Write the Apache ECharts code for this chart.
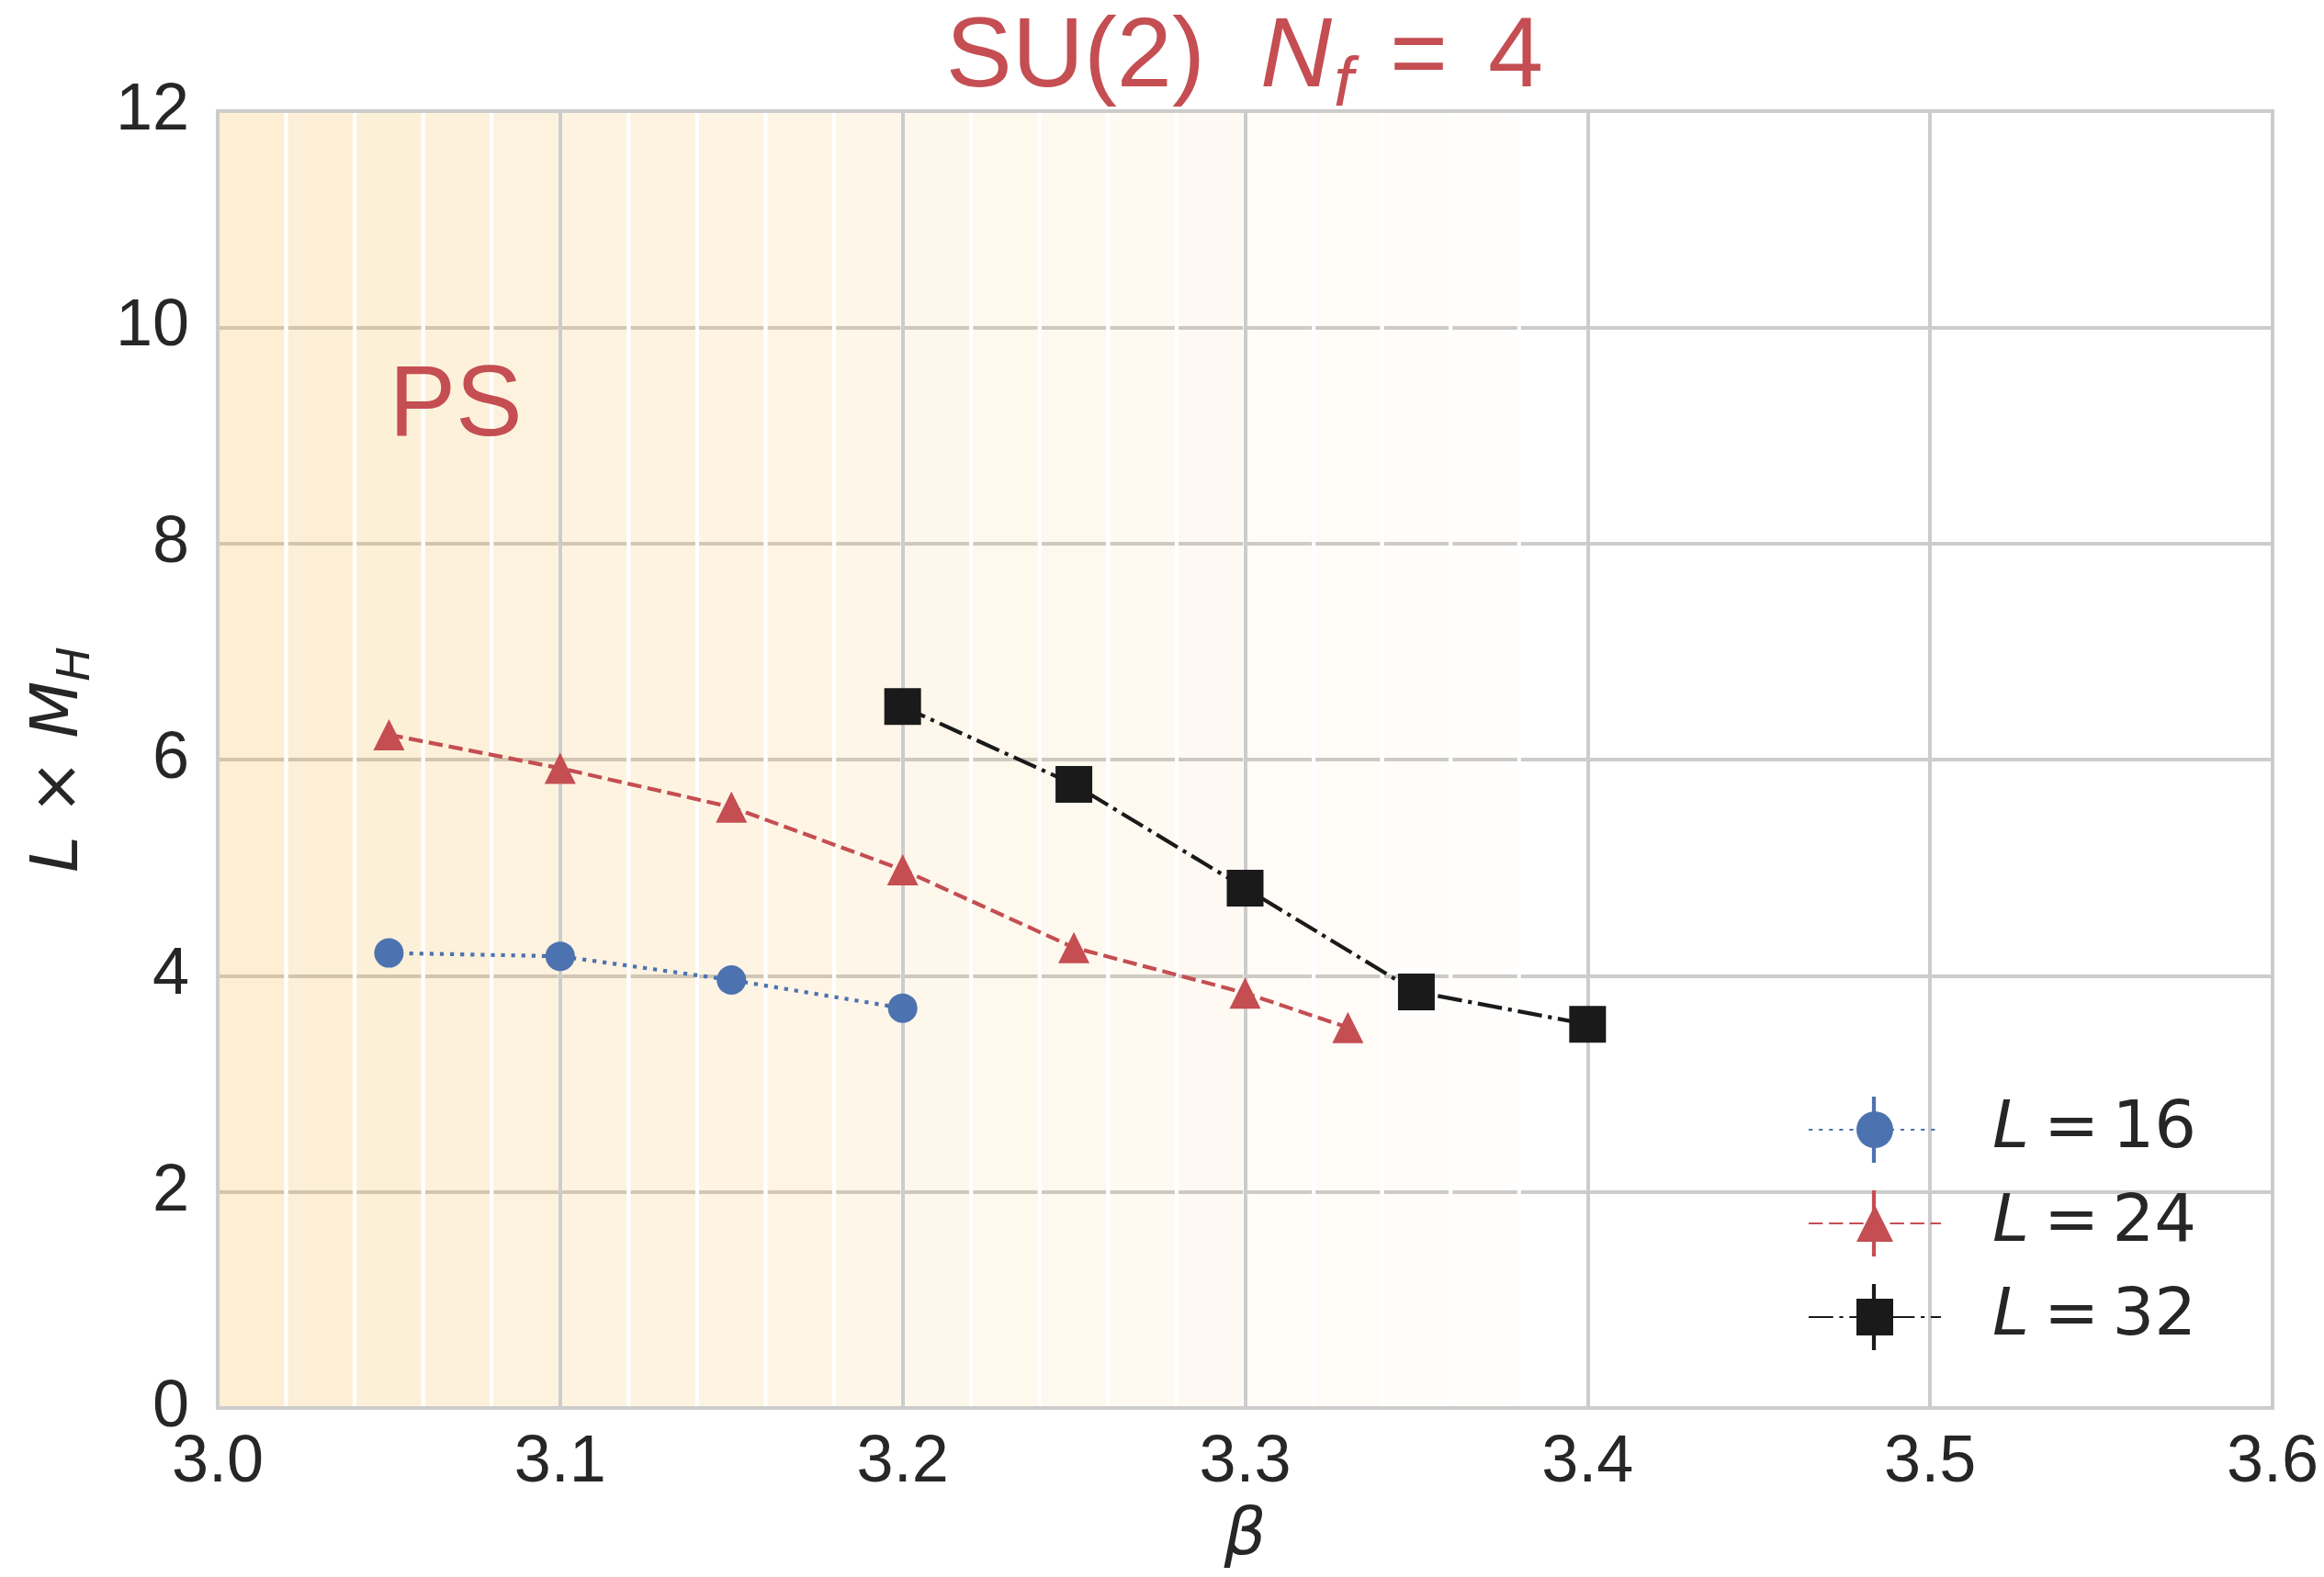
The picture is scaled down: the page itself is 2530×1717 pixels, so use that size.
<!DOCTYPE html>
<html>
<head>
<meta charset="utf-8">
<script src="https://cdn.jsdelivr.net/npm/echarts@6/dist/echarts.min.js"></script>
<style>
html,body{margin:0;padding:0;background:#fff;}
#chart{width:2530px;height:1717px;}
</style>
</head>
<body>
<div id="chart"></div>
<script>
// ---- data ----
const betaL16 = [3.05, 3.10, 3.15, 3.20];
const mhL16   = [4.21, 4.18, 3.96, 3.70];
const betaL24 = [3.05, 3.10, 3.15, 3.20, 3.25, 3.30, 3.33];
const mhL24   = [6.23, 5.92, 5.56, 4.98, 4.26, 3.84, 3.52];
const betaL32 = [3.20, 3.25, 3.30, 3.35, 3.40];
const mhL32   = [6.49, 5.77, 4.81, 3.85, 3.55];
const seriesNames = ['L16', 'L24', 'L32'];
const legendLabels = ['{i|L}{e|=}{n|16}', '{i|L}{e|=}{n|24}', '{i|L}{e|=}{n|32}'];
const xTickLabels = ['3.0', '3.1', '3.2', '3.3', '3.4', '3.5', '3.6'];
const yTickLabels = ['0', '2', '4', '6', '8', '10', '12'];
// background bands (PS region shading)
const bandStarts = [3.00, 3.02, 3.04, 3.06, 3.08, 3.10, 3.12, 3.14, 3.16, 3.18,
                    3.20, 3.22, 3.24, 3.26, 3.28, 3.30, 3.32, 3.34, 3.36];
const bandEnds   = [3.02, 3.04, 3.06, 3.08, 3.10, 3.12, 3.14, 3.16, 3.18, 3.20,
                    3.22, 3.24, 3.26, 3.28, 3.30, 3.32, 3.34, 3.36, 3.38];
const bandAlphas = [0.200, 0.189, 0.179, 0.168, 0.158, 0.147, 0.137, 0.126, 0.116, 0.105,
                    0.095, 0.084, 0.074, 0.063, 0.053, 0.042, 0.032, 0.021, 0.011];
const psLabel = { beta: 3.05, value: 9.0, text: 'PS' };

const zip = (a, b) => a.map((v, i) => [v, b[i]]);
const bandData = bandStarts.map((s, i) => [s, bandEnds[i], bandAlphas[i]]);

const TXT = '#262626';
const seriesColors = ['#4c72b0', '#c44e52', '#1a1a1a'];

// legend layout settings
const LEG_LEFT = 1968, LEG_TOP = 1194, LEG_W = 144, LEG_ROW = 72, LEG_GAP = 30;
// error-bar stubs shown in the legend handles
const legendStubs = seriesNames.map((n, i) => ({
  type: 'line', z: 200, silent: true,
  shape: {
    x1: LEG_LEFT + LEG_W / 2, x2: LEG_LEFT + LEG_W / 2,
    y1: LEG_TOP + LEG_ROW / 2 + i * (LEG_ROW + LEG_GAP) - 36,
    y2: LEG_TOP + LEG_ROW / 2 + i * (LEG_ROW + LEG_GAP) + 36
  },
  style: { stroke: seriesColors[i], lineWidth: 4.2 }
}));

const chart = echarts.init(document.getElementById('chart'), null, { renderer: 'canvas' });

const option = {
  animation: false,
  backgroundColor: '#ffffff',
  grid: {
    left: 237, right: 56, top: 121, bottom: 184,
    show: true, borderColor: '#cccccc', borderWidth: 4,
    backgroundColor: 'transparent', z: 5,
    outerBoundsMode: 'none'
  },
  graphic: [{
    type: 'text', x: 1355, y: 64, z: 100,
    style: {
      text: '{n|SU(2)  }{i|N}{s|f}{e|=}{n|4}',
      align: 'center', verticalAlign: 'middle',
      rich: {
        n: { fontFamily: 'Liberation Sans', fontSize: 108, fill: '#c44e52', lineHeight: 130 },
        e: { fontFamily: 'Liberation Sans', fontSize: 108, fill: '#c44e52', lineHeight: 130, padding: [0, 44, 0, 40] },
        i: { fontFamily: 'Liberation Sans', fontStyle: 'italic', fontSize: 108, fill: '#c44e52', lineHeight: 130 },
        s: { fontFamily: 'Liberation Sans', fontStyle: 'italic', fontSize: 76, fill: '#c44e52', lineHeight: 60, padding: [60, 0, 0, 2] }
      }
    }
  }].concat(legendStubs),
  legend: {
    orient: 'vertical',
    left: LEG_LEFT, top: LEG_TOP, padding: 0,
    itemWidth: LEG_W, itemHeight: 50, itemGap: LEG_GAP,
    data: seriesNames,
    formatter: (name) => legendLabels[seriesNames.indexOf(name)],
    textStyle: {
      color: TXT, fontSize: 72, lineHeight: LEG_ROW, padding: [0, 0, 0, 51],
      rich: {
        i: { fontFamily: 'DejaVu Sans', fontStyle: 'italic', fontSize: 72, color: TXT },
        e: { fontFamily: 'DejaVu Sans', fontSize: 72, color: TXT, padding: [0, 14, 0, 16] },
        n: { fontFamily: 'DejaVu Sans', fontSize: 72, color: TXT }
      }
    }
  },
  xAxis: {
    type: 'value', min: 3.0, max: 3.6, interval: 0.1, z: 3,
    axisLine: { show: false }, axisTick: { show: false },
    splitLine: { show: true, lineStyle: { color: '#cccccc', width: 4 } },
    axisLabel: {
      color: TXT, fontFamily: 'Liberation Sans', fontSize: 72, margin: 24,
      formatter: (v) => xTickLabels[Math.round((v - 3.0) * 10)]
    },
    name: '{i|β}', nameLocation: 'middle', nameGap: 104,
    nameTextStyle: {
      rich: { i: { fontFamily: 'DejaVu Sans', fontStyle: 'italic', fontSize: 72, color: TXT } }
    }
  },
  yAxis: {
    type: 'value', min: 0, max: 12, interval: 2, z: 0,
    axisLine: { show: false }, axisTick: { show: false },
    splitLine: { show: true, lineStyle: { color: '#cccccc', width: 4 } },
    axisLabel: {
      color: TXT, fontFamily: 'Liberation Sans', fontSize: 72, margin: 31,
      formatter: (v) => yTickLabels[Math.round(v / 2)]
    },
    name: '{i|L}{n| × }{i|M}{s|H}', nameLocation: 'middle', nameGap: 132, nameRotate: 90,
    nameTextStyle: {
      rich: {
        i: { fontFamily: 'DejaVu Sans', fontStyle: 'italic', fontSize: 72, color: TXT, lineHeight: 80 },
        n: { fontFamily: 'DejaVu Sans', fontSize: 72, color: TXT, lineHeight: 80 },
        s: { fontFamily: 'DejaVu Sans', fontStyle: 'italic', fontSize: 50, color: TXT, lineHeight: 40, padding: [38, 0, 0, 0] }
      }
    }
  },
  series: [
    {
      type: 'custom', name: 'bands', z: 1, silent: true, clip: true,
      data: bandData,
      renderItem: (params, api) => {
        const p0 = api.coord([api.value(0), 0]);
        const p1 = api.coord([api.value(1), 0]);
        const cs = params.coordSys;
        const a = api.value(2);
        return {
          type: 'group',
          children: [
            { type: 'rect', shape: { x: p0[0], y: cs.y, width: p1[0] - p0[0], height: cs.height },
              style: { fill: 'rgba(245,170,40,' + a + ')' } },
            { type: 'line', shape: { x1: p0[0], y1: cs.y, x2: p0[0], y2: cs.y + cs.height },
              style: { stroke: '#ffffff', lineWidth: 4 } },
            { type: 'line', shape: { x1: p1[0], y1: cs.y, x2: p1[0], y2: cs.y + cs.height },
              style: { stroke: '#ffffff', lineWidth: 4 } }
          ]
        };
      }
    },
    {
      type: 'scatter', name: 'ps', z: 6, silent: true,
      data: [[psLabel.beta, psLabel.value]], symbolSize: 0,
      itemStyle: { opacity: 1 },
      label: {
        show: true, formatter: psLabel.text, position: [0, 0], opacity: 1,
        align: 'left', verticalAlign: 'bottom', offset: [0, 24],
        fontFamily: 'Liberation Sans', fontSize: 109, color: '#c44e52'
      }
    },
    {
      type: 'line', name: 'L16', z: 10, data: zip(betaL16, mhL16),
      symbol: 'circle', symbolSize: 32, showSymbol: true,
      lineStyle: { color: seriesColors[0], width: 4.2, type: [4.2, 6.9] },
      itemStyle: { color: seriesColors[0] }
    },
    {
      type: 'line', name: 'L24', z: 11, data: zip(betaL24, mhL24),
      symbol: 'triangle', symbolSize: 34, showSymbol: true,
      lineStyle: { color: seriesColors[1], width: 4.2, type: [15.4, 6.7] },
      itemStyle: { color: seriesColors[1] }
    },
    {
      type: 'line', name: 'L32', z: 12, data: zip(betaL32, mhL32),
      symbol: 'rect', symbolSize: 40, showSymbol: true,
      lineStyle: { color: seriesColors[2], width: 4.2, type: [26.7, 6.7, 4.2, 6.7] },
      itemStyle: { color: seriesColors[2] }
    }
  ]
};
chart.setOption(option);
</script>
</body>
</html>
